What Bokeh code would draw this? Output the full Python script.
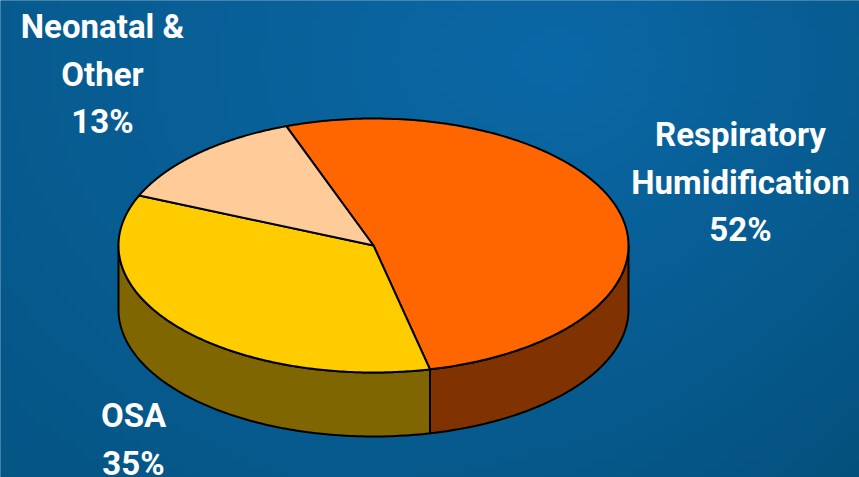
import numpy as np
from bokeh.plotting import figure
from bokeh.models import Range1d
from bokeh.core.properties import value
from bokeh.embed import file_html
from bokeh.resources import INLINE

# Data
categories = ["Respiratory Humidification", "OSA", "Neonatal & Other"]
shares = [52, 35, 13]
label_lines = [["Respiratory", "Humidification", "52%"], ["OSA", "35%"], ["Neonatal &", "Other", "13%"]]
top_colors = ["#FF6600", "#FFCC00", "#FFCC99"]
side_colors = ["#803300", "#806600", "#806633"]

# Layout (page pixels)
W, H = 859, 477
cx, cy, rx, ry, depth = 373, 245, 255, 127, 64
start_deg = -20
label_x = [740, 133, 102]
label_y0 = [146, 427, 38]
line_h = 47.5
text_shift = -12
font = "Roboto"

p = figure(width=W, height=H, output_backend="svg", toolbar_location=None,
           x_range=Range1d(0, W), y_range=Range1d(H, 0),
           min_border=0, outline_line_color=None, background_fill_color="#06598F",
           border_fill_color="#06598F")
p.axis.visible = False
p.grid.visible = False
p.toolbar.logo = None

# Background gradient
ny, nx = 60, 108
xx, yy = np.meshgrid(np.linspace(0, W, nx), np.linspace(0, H, ny))
dx = xx - 560
dy = yy - 60
y_scale = 800 - 280 * np.clip((xx - 300) / 559, 0, 1)
d = np.clip(np.hypot(dx / np.where(dx < 0, 1100, 650), dy / y_scale), 0, 1)
c0 = np.array([11, 104, 166])
c1 = np.array([3, 78, 120])
img = np.zeros((ny, nx), dtype=np.uint32)
view = img.view(dtype=np.uint8).reshape((ny, nx, 4))
for k in range(3):
    view[:, :, k] = (c0[k] + (c1[k] - c0[k]) * d).astype(np.uint8)
view[:, :, 3] = 255
p.image_rgba(image=[img], x=-6, y=-6, dw=W + 12, dh=H + 12)


def pt(t):
    t = np.radians(t)
    return cx + rx * np.sin(t), cy - ry * np.cos(t)


edges = start_deg + np.cumsum([0] + shares) * 360 / sum(shares)

# Side walls (only the front half of the ellipse is visible)
for i in range(len(shares)):
    a, b = max(edges[i], 90), min(edges[i + 1], 270)
    if b <= a:
        continue
    t = np.linspace(a, b, 120)
    x, y = pt(t)
    p.patch(np.r_[x, x[::-1]], np.r_[y, y[::-1] + depth],
            fill_color=side_colors[i], line_color="black", line_width=2, line_join="round")

# Top faces
for i in range(len(shares)):
    t = np.linspace(edges[i], edges[i + 1], 200)
    x, y = pt(t)
    p.patch(np.r_[cx, x], np.r_[cy, y],
            fill_color=top_colors[i], line_color="black", line_width=2, line_join="round")

# Labels
for lines, lx, ly in zip(label_lines, label_x, label_y0):
    p.text(x=[lx] * len(lines), y=[ly + text_shift + j * line_h for j in range(len(lines))], text=lines,
           text_color="white", text_font=value(font), text_font_style="bold",
           text_font_size="33px", text_align="center", text_baseline="alphabetic")

open("out.html", "w").write(file_html(p, INLINE))
